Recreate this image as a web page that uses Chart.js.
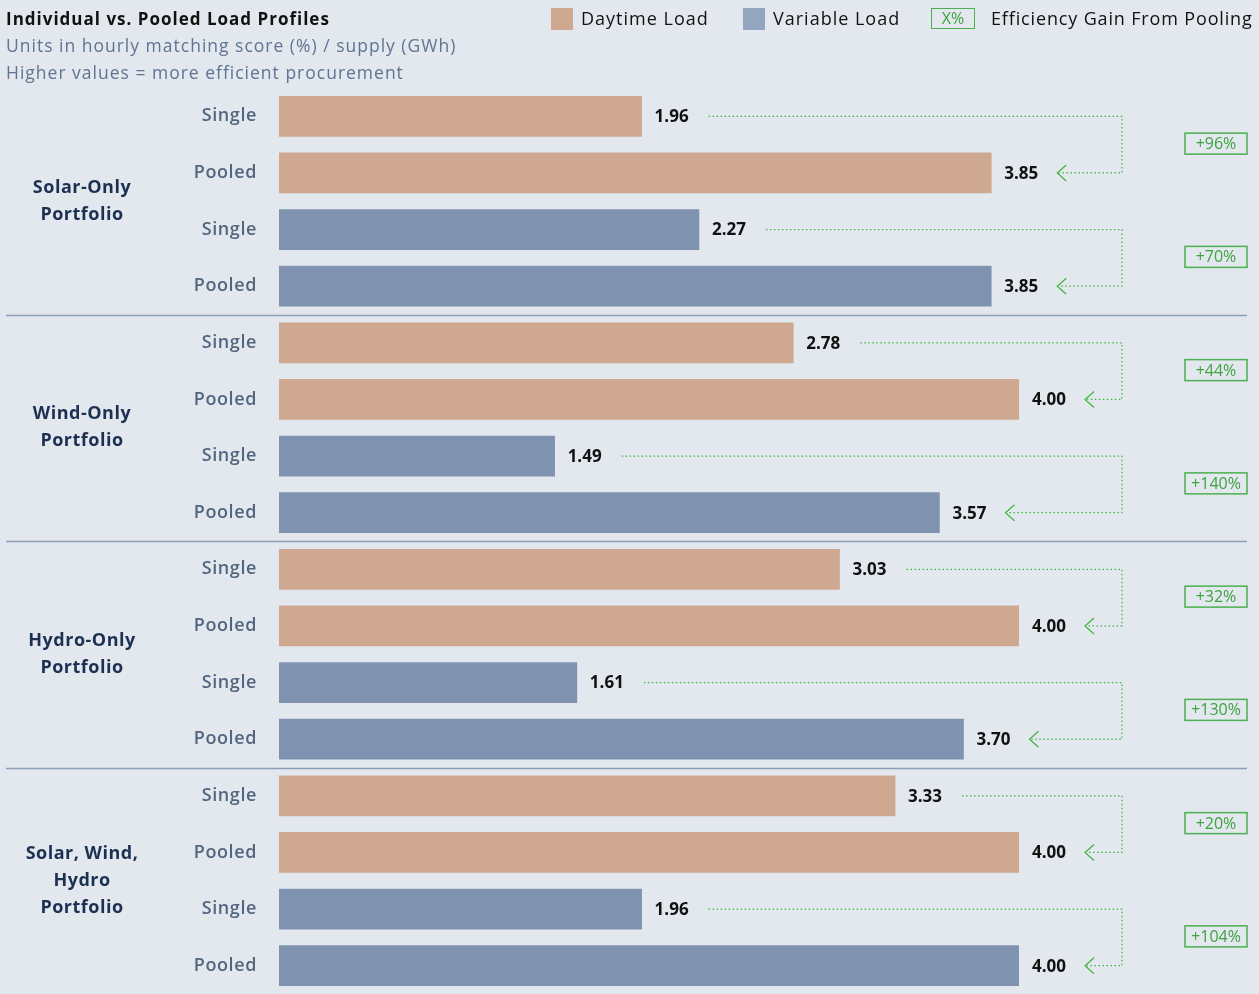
<!DOCTYPE html>
<html><head><meta charset="utf-8">
<script src="https://cdn.jsdelivr.net/npm/chart.js@4"></script>
<style>
html,body{margin:0;padding:0;background:#e3e8ef;}
#wrap{position:relative;width:1259px;height:994px;font-family:'Open Sans',sans-serif;overflow:hidden;}
canvas{position:absolute;left:0;top:0;}
.t{position:absolute;white-space:nowrap;line-height:1;letter-spacing:1px;}
.sw{position:absolute;width:22px;height:22px;}
</style></head><body>
<div id="wrap">
<canvas id="c" width="1259" height="994"></canvas>
<div class="t" style="left:6px;top:10px;font-weight:700;font-size:17px;color:#111;">Individual vs. Pooled Load Profiles</div>
<div class="t" style="left:6px;top:37px;font-size:17.5px;color:#5e7491;">Units in hourly matching score (%) / supply (GWh)</div>
<div class="t" style="left:6px;top:64px;font-size:17.5px;color:#5e7491;">Higher values = more efficient procurement</div>
<div class="sw" style="left:551px;top:8px;background:#cfa891;"></div>
<div class="t" style="left:581px;top:9px;font-size:18px;color:#111;">Daytime Load</div>
<div class="sw" style="left:743px;top:8px;background:#93a5bf;"></div>
<div class="t" style="left:773px;top:9px;font-size:18px;color:#111;">Variable Load</div>
<div class="t" style="left:931px;top:8px;width:42px;height:19px;border:1.5px solid #4caf50;color:#3ea63e;font-size:16px;text-align:center;line-height:19px;letter-spacing:0;">X%</div>
<div class="t" style="left:991px;top:9px;font-size:18px;color:#111;letter-spacing:0.85px;">Efficiency Gain From Pooling</div>
</div>
<script>
const groups = [['Solar-Only','Portfolio'],['Wind-Only','Portfolio'],['Hydro-Only','Portfolio'],['Solar, Wind,','Hydro','Portfolio']];
const rowLabels = ['Single','Pooled','Single','Pooled'];
const daytimeSingle = [1.96, 2.78, 3.03, 3.33];
const daytimePooled = [3.85, 4.00, 4.00, 4.00];
const variableSingle = [2.27, 1.49, 1.61, 1.96];
const variablePooled = [3.85, 3.57, 3.70, 4.00];
const gains = ['+96%','+70%','+44%','+140%','+32%','+130%','+20%','+104%'];

const labels = groups.flatMap(() => rowLabels);
const daytimeData = groups.flatMap((g,i) => [daytimeSingle[i], daytimePooled[i], null, null]);
const variableData = groups.flatMap((g,i) => [null, null, variableSingle[i], variablePooled[i]]);

const FONT = "'Open Sans', sans-serif";
const GREEN = '#3db53d';

const spacing = {
  id: 'spacing',
  beforeDraw(chart) { chart.ctx.letterSpacing = '0.6px'; }
};

const overlay = {
  id: 'overlay',
  afterDatasetsDraw(chart) {
    const ctx = chart.ctx;
    const xs = chart.scales.x;
    const m0 = chart.getDatasetMeta(0).data;
    const m1 = chart.getDatasetMeta(1).data;
    const el = i => ((i % 4) < 2 ? m0[i] : m1[i]);
    const val = i => ((i % 4) < 2 ? daytimeData[i] : variableData[i]);
    ctx.save();
    ctx.letterSpacing = '0px';
    ctx.font = "bold 17px " + FONT;
    ctx.fillStyle = '#111';
    ctx.textBaseline = 'middle';
    ctx.textAlign = 'left';
    const ends = [];
    for (let i = 0; i < labels.length; i++) {
      const e = el(i);
      const txt = val(i).toFixed(2);
      ctx.fillText(txt, e.x + 13, e.y + 1);
      ends[i] = e.x + 13 + ctx.measureText(txt).width;
    }
    const vx = xs.getPixelForValue(4) + 103;
    for (let p = 0; p < 8; p++) {
      const s = p * 2, q = p * 2 + 1;
      const ys = el(s).y, yq = el(q).y;
      const x0 = ends[s] + 20, xa = ends[q] + 19;
      ctx.strokeStyle = GREEN;
      ctx.lineWidth = 1.2;
      ctx.setLineDash([1.5, 2.5]);
      ctx.beginPath();
      ctx.moveTo(x0, ys); ctx.lineTo(vx, ys); ctx.lineTo(vx, yq); ctx.lineTo(xa + 2, yq);
      ctx.stroke();
      ctx.setLineDash([]);
      ctx.beginPath();
      ctx.moveTo(xa + 9, yq - 8); ctx.lineTo(xa, yq); ctx.lineTo(xa + 9, yq + 8);
      ctx.stroke();
      const cy = (ys + yq) / 2 - 1;
      const bw = 62, bh = 21, bx = 1247 - bw;
      ctx.strokeStyle = '#4caf50';
      ctx.lineWidth = 1.5;
      ctx.strokeRect(bx, cy - bh / 2, bw, bh);
      ctx.fillStyle = '#3ea23e';
      ctx.font = "16px " + FONT;
      ctx.textAlign = 'center';
      ctx.fillText(gains[p], bx + bw / 2, cy + 1);
      ctx.textAlign = 'left';
      ctx.font = "bold 17px " + FONT;
      ctx.fillStyle = '#111';
    }
    ctx.strokeStyle = '#8c9db7';
    ctx.lineWidth = 1.5;
    for (let g = 0; g < groups.length - 1; g++) {
      const y = Math.round((el(g * 4 + 3).y + el(g * 4 + 4).y) / 2) + 0.5;
      ctx.beginPath(); ctx.moveTo(6, y); ctx.lineTo(1247, y); ctx.stroke();
    }
    ctx.fillStyle = '#1c3052';
    ctx.font = "bold 18px " + FONT;
    ctx.letterSpacing = '0.5px';
    ctx.textAlign = 'center';
    for (let g = 0; g < groups.length; g++) {
      const cy = (el(g * 4).y + el(g * 4 + 3).y) / 2;
      const lines = groups[g];
      const lh = 27;
      lines.forEach((t, k) => {
        ctx.fillText(t, 82, cy + (k - (lines.length - 1) / 2) * lh);
      });
    }
    ctx.restore();
  }
};

new Chart(document.getElementById('c'), {
  type: 'bar',
  data: {
    labels: labels,
    datasets: [
      { label: 'Daytime Load', data: daytimeData, backgroundColor: '#cfa891', grouped: false, barThickness: 40, skipNull: true },
      { label: 'Variable Load', data: variableData, backgroundColor: '#7f93b0', grouped: false, barThickness: 40, skipNull: true }
    ]
  },
  options: {
    indexAxis: 'y',
    responsive: false,
    animation: false,
    layout: { autoPadding: false, padding: { top: 88, bottom: 0, left: 0, right: 240 } },
    plugins: { legend: { display: false }, tooltip: { enabled: false } },
    scales: {
      x: { display: false, min: 0, max: 4 },
      y: {
        grid: { display: false, drawTicks: false },
        border: { display: false },
        ticks: { color: '#52667f', font: { family: FONT, size: 18, weight: '600' }, padding: 22 },
        afterFit(scale) { scale.width = 279; scale.paddingTop = 0; scale.paddingBottom = 0; }
      }
    }
  },
  plugins: [spacing, overlay]
});
</script>
</body></html>
